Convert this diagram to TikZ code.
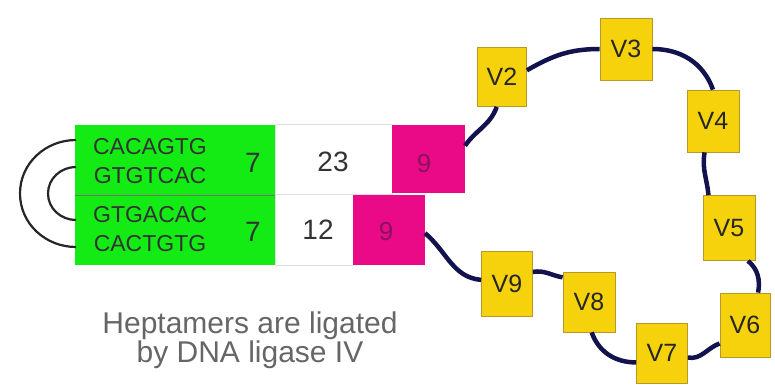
\documentclass[tikz,border=0pt]{standalone}
\usepackage{fontspec}
\setmainfont{Liberation Sans}
\begin{document}
\begin{tikzpicture}[x=1pt,y=-1pt,
  cell/.style={draw=none,inner sep=0pt,outer sep=0pt},
  greencell/.style={cell,fill=segGreen},
  whitecell/.style={cell,fill=white,draw=gray!25,line width=1pt},
  rsscell/.style={cell,fill=segMag},
  vseg/.style={draw=vBorder,line width=0.8pt,fill=vYellow,inner sep=0pt,
    minimum width=52pt,minimum height=62pt,font=\fontsize{25}{25}\selectfont,text=black!85},
  seq/.style={align=center,font=\fontsize{23}{29}\selectfont,text=black!80,inner sep=0pt},
  num/.style={font=\fontsize{28}{28}\selectfont,text=black!80,inner sep=0pt},
  ninenum/.style={font=\fontsize{26}{26}\selectfont,text=nineText,inner sep=0pt},
  chain/.style={draw=chainBlue,line width=4.5pt},
  hairpin/.style={draw=black!85,line width=2.2pt},
  caption/.style={align=center,font=\fontsize{30}{27}\selectfont,text=black!60}]
\definecolor{segGreen}{HTML}{14EA14}
\definecolor{segMag}{HTML}{EA0A88}
\definecolor{nineText}{HTML}{8A1060}
\definecolor{vYellow}{HTML}{F6D20C}
\definecolor{vBorder}{HTML}{B8982A}
\definecolor{chainBlue}{HTML}{12124E}
\useasboundingbox (0,0) rectangle (775,387);

% coding ends: heptamer blocks and spacers
\node[greencell,minimum width=200pt,minimum height=70pt] (g1) at (175,160) {};
\node[greencell,minimum width=200pt,minimum height=70pt] (g2) at (175,230) {};
\draw[black!55,line width=0.6pt] (g1.south west) -- (g1.south east);
\node[whitecell,minimum width=117pt,minimum height=70pt] (w1) at (333.5,160) {};
\node[whitecell,minimum width=78pt,minimum height=70pt] (w2) at (314,230) {};
\node[rsscell,minimum width=73pt,minimum height=68pt] (m1) at (428.5,159) {};
\node[rsscell,minimum width=72pt,minimum height=70pt] (m2) at (389,230) {};

\node[seq] (s1) at (150,161) {CACAGTG\\GTGTCAC};
\node[seq] (s2) at (150,229) {GTGACAC\\CACTGTG};
\node[num] (h1) at (253,163) {7};
\node[num] (h2) at (253,232) {7};
\node[num] (sp1) at (333,162) {23};
\node[num] (sp2) at (318,230) {12};
\node[ninenum] (n1) at (424,164) {9};
\node[ninenum] (n2) at (386,232) {9};

% hairpin loops joining the strands
\coordinate (o1) at (76,140);
\coordinate (o2) at (76,247);
\coordinate (i1) at (76,167);
\coordinate (i2) at (76,220);
\draw[hairpin] (o1) to[out=180,in=90] (20,193.5) to[out=-90,in=180] (o2);
\draw[hairpin] (i1) to[out=180,in=90] (48,193.5) to[out=-90,in=180] (i2);

% V segments
\node[vseg,minimum width=49pt,minimum height=59pt] (V2) at (502,77) {V2};
\node[vseg] (V3) at (626,49) {V3};
\node[vseg] (V4) at (713,121) {V4};
\node[vseg,minimum height=65pt] (V5) at (729,228) {V5};
\node[vseg,minimum width=50pt,minimum height=64pt] (V6) at (745,325) {V6};
\node[vseg,minimum width=51pt,minimum height=60pt] (V7) at (662,353) {V7};
\node[vseg,minimum height=60pt] (V8) at (589,302) {V8};
\node[vseg,minimum width=51pt,minimum height=65pt] (V9) at (507,284) {V9};

% excised signal circle
\draw[chain] (m1.20) to[out=55,in=-110] (V2.-100);
\draw[chain] (V2.15) to[out=30,in=180] (V3.west);
\draw[chain] (V3.east) to[out=0,in=110] (V4.north);
\draw[chain] (V4.-105) to[out=-100,in=95] (V5.122);
\draw[chain] (V5.-60) to[out=-40,in=80] (V6.68);
\draw[chain] (V6.-144) to[out=200,in=-10] (V7.-10);
\draw[chain] (V7.200) to[out=180,in=-70] (V8.-85);
\draw[chain] (V8.137) to[out=170,in=10] (V9.25);
\draw[chain] (V9.171) to[out=175,in=-40] (m2.-5);

\node[caption] (cap) at (250,340) {Heptamers are ligated\\by DNA ligase IV};
\end{tikzpicture}
\end{document}
